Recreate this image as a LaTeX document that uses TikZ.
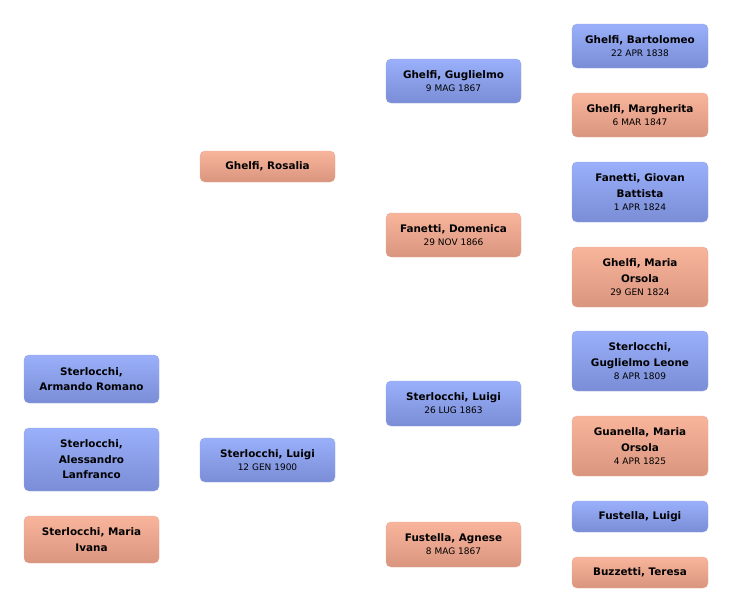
\documentclass[tikz,border=0pt]{standalone}
\usepackage{fontspec}
\setmainfont{DejaVu Sans}
\definecolor{btop}{HTML}{9AB0FA}
\definecolor{bbot}{HTML}{7A8DD6}
\definecolor{stop}{HTML}{F9B59C}
\definecolor{sbot}{HTML}{D9957E}
\tikzset{
  pbox/.style={rectangle, rounded corners=5pt, minimum width=136pt, inner sep=0pt,
    align=center, font=\fontsize{10.4}{15.5}\selectfont\bfseries},
  male/.style={pbox, top color=btop, bottom color=bbot, draw=bbot!80!white, line width=0.4pt},
  female/.style={pbox, top color=stop, bottom color=sbot, draw=sbot!80!white, line width=0.4pt},
}
\newcommand{\dt}[1]{\\[-2.5pt]{\fontsize{9}{11}\selectfont\mdseries #1}}
\begin{document}
\begin{tikzpicture}[x=1pt,y=-1pt]
\useasboundingbox (0,0) rectangle (732,613);
% column 4
\node[male,minimum height=44] (a1) at (640,46) {Ghelfi, Bartolomeo\dt{22 APR 1838}};
\node[female,minimum height=44] (a2) at (640,115) {Ghelfi, Margherita\dt{6 MAR 1847}};
\node[male,minimum height=60] (a3) at (640,192) {Fanetti, Giovan\\Battista\dt{1 APR 1824}};
\node[female,minimum height=60] (a4) at (640,277) {Ghelfi, Maria\\Orsola\dt{29 GEN 1824}};
\node[male,minimum height=60] (a5) at (640,361) {Sterlocchi,\\Guglielmo Leone\dt{8 APR 1809}};
\node[female,minimum height=60] (a6) at (640,446) {Guanella, Maria\\Orsola\dt{4 APR 1825}};
\node[male,minimum height=31] (a7) at (640,516.5) {Fustella, Luigi};
\node[female,minimum height=31] (a8) at (640,572.5) {Buzzetti, Teresa};
% column 3
\node[male,minimum height=44,minimum width=135pt] (b1) at (453.5,81) {Ghelfi, Guglielmo\dt{9 MAG 1867}};
\node[female,minimum height=44,minimum width=135pt] (b2) at (453.5,235) {Fanetti, Domenica\dt{29 NOV 1866}};
\node[male,minimum height=45,minimum width=135pt] (b3) at (453.5,403.5) {Sterlocchi, Luigi\dt{26 LUG 1863}};
\node[female,minimum height=45,minimum width=135pt] (b4) at (453.5,544.5) {Fustella, Agnese\dt{8 MAG 1867}};
% column 2
\node[female,minimum height=31,minimum width=135pt] (c1) at (267.5,166.5) {Ghelfi, Rosalia};
\node[male,minimum height=44,minimum width=135pt] (c2) at (267.5,460) {Sterlocchi, Luigi\dt{12 GEN 1900}};
% column 1
\node[male,minimum height=48,minimum width=135pt] (d1) at (91.5,379) {Sterlocchi,\\Armando Romano};
\node[male,minimum height=63,minimum width=135pt] (d2) at (91.5,459.5) {Sterlocchi,\\Alessandro\\Lanfranco};
\node[female,minimum height=47,minimum width=135pt] (d3) at (91.5,539.5) {Sterlocchi, Maria\\Ivana};
\end{tikzpicture}
\end{document}
